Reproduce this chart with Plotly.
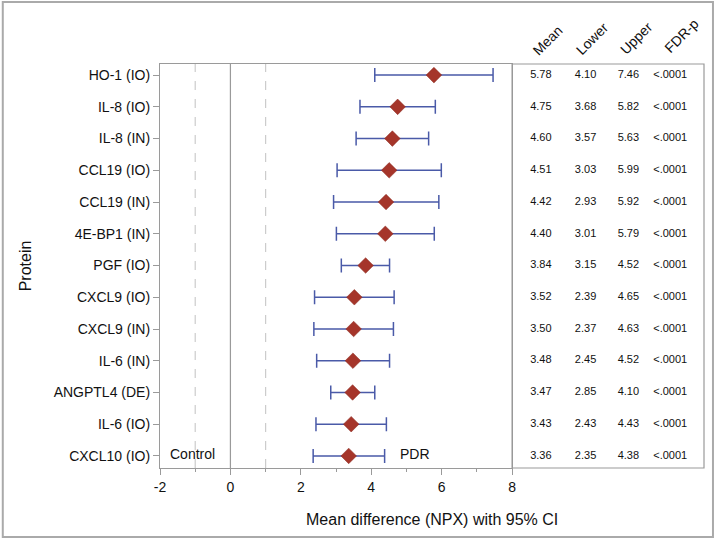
import plotly.graph_objects as go

# Forest plot data
proteins = ["HO-1 (IO)", "IL-8 (IO)", "IL-8 (IN)", "CCL19 (IO)", "CCL19 (IN)",
            "4E-BP1 (IN)", "PGF (IO)", "CXCL9 (IO)", "CXCL9 (IN)", "IL-6 (IN)",
            "ANGPTL4 (DE)", "IL-6 (IO)", "CXCL10 (IO)"]
mean = [5.78, 4.75, 4.60, 4.51, 4.42, 4.40, 3.84, 3.52, 3.50, 3.48, 3.47, 3.43, 3.36]
lower = [4.10, 3.68, 3.57, 3.03, 2.93, 3.01, 3.15, 2.39, 2.37, 2.45, 2.85, 2.43, 2.35]
upper = [7.46, 5.82, 5.63, 5.99, 5.92, 5.79, 4.52, 4.65, 4.63, 4.52, 4.10, 4.43, 4.38]
fdr_p = ["<.0001"] * len(proteins)
col_headers = ["Mean", "Lower", "Upper", "FDR-p"]
col_pos = [0.15, 0.383, 0.606, 0.824]
x_ticks = [-2, 0, 2, 4, 6, 8]
x_ticktext = ["-2", "0", "2", "4", "6", "8"]

FONT = "Liberation Sans, Arial, sans-serif"
AXIS = "#9a9a9a"

fig = go.Figure()

# CI bars and mean markers
fig.add_trace(go.Scatter(
    x=mean, y=proteins, mode="markers",
    marker=dict(symbol="diamond", size=12, color="#a5352a",
                line=dict(color="#8a2a20", width=0.5)),
    error_x=dict(type="data", symmetric=False,
                 array=[u - m for u, m in zip(upper, mean)],
                 arrayminus=[m - l for m, l in zip(mean, lower)],
                 color="#4a5aa8", thickness=1.5, width=7),
    showlegend=False, hoverinfo="skip", xaxis="x", yaxis="y"))

# Table columns
columns = [["%.2f" % v for v in mean], ["%.2f" % v for v in lower],
           ["%.2f" % v for v in upper], fdr_p]
for pos, vals in zip(col_pos, columns):
    fig.add_trace(go.Scatter(
        x=[pos] * len(vals), y=proteins, mode="text", text=vals,
        textfont=dict(family=FONT, size=11, color="#111"),
        showlegend=False, hoverinfo="skip", xaxis="x2", yaxis="y"))

# Reference lines
fig.add_shape(type="line", x0=0, x1=0, y0=0, y1=1, xref="x", yref="y domain",
              line=dict(color=AXIS, width=1.2))
for xv in [-1, 1]:
    fig.add_shape(type="line", x0=xv, x1=xv, y0=0, y1=1, xref="x", yref="y domain",
                  line=dict(color="#cccccc", width=1.2, dash="dash"))

# Table box
fig.add_shape(type="rect", x0=0, x1=1, y0=0, y1=1, xref="x2 domain", yref="y domain",
              line=dict(color=AXIS, width=1.2))
# Outer border
fig.add_shape(type="rect", x0=-0.289, x1=1.0165, y0=-0.1705, y1=1.1535,
              xref="paper", yref="paper", line=dict(color="#aaaaaa", width=2))

# Column headers
hdr_x = [550, 594, 639, 684]
hdr_y = [40, 39, 38, 36]
for h, px, py in zip(col_headers, hdr_x, hdr_y):
    fig.add_annotation(text=h, x=(px - 160) / 547, y=(468 - py) / 404,
                       xref="paper", yref="paper", showarrow=False, textangle=-45,
                       xanchor="center", yanchor="middle",
                       font=dict(family=FONT, size=14, color="#111"))

fig.add_annotation(text="Control", x=-1.77, y="CXCL10 (IO)", xref="x", yref="y",
                   xanchor="left", yshift=2, showarrow=False,
                   font=dict(family=FONT, size=14, color="#111"))
fig.add_annotation(text="PDR", x=4.75, y="CXCL10 (IO)", xref="x", yref="y",
                   xanchor="left", yshift=2, showarrow=False,
                   font=dict(family=FONT, size=14, color="#111"))

fig.add_annotation(text="Mean difference (NPX) with 95% CI", x=0.5, y=-0.128,
                   xref="paper", yref="paper", showarrow=False,
                   xanchor="center", yanchor="middle",
                   font=dict(family=FONT, size=16, color="#111"))

fig.update_layout(
    width=720, height=540,
    margin=dict(l=160, r=13, t=64, b=72),
    paper_bgcolor="white", plot_bgcolor="white",
    font=dict(family=FONT, size=14, color="#111"),
    xaxis=dict(domain=[0, 0.6472], range=[-2, 8], tickvals=x_ticks,
               ticktext=x_ticktext, showgrid=False,
               zeroline=False, showline=True, linecolor=AXIS, linewidth=1.2,
               mirror=True, ticks="outside", ticklen=6, tickcolor=AXIS,
               minor=dict(dtick=1, ticks="outside", ticklen=3, tickcolor=AXIS),
               tickfont=dict(size=14)),
    xaxis2=dict(domain=[0.6472, 1], range=[0, 1], showgrid=False, zeroline=False,
                showticklabels=False, anchor="y"),
    yaxis=dict(type="category", categoryorder="array", categoryarray=proteins,
               range=[12.38, -0.35], showgrid=False, zeroline=False,
               showline=True, linecolor=AXIS, linewidth=1.2, mirror=True,
               ticks="outside", ticklen=6, tickcolor=AXIS,
               title=dict(text="Protein", font=dict(size=16), standoff=18),
               tickfont=dict(size=14)),
)

fig.write_html("out.html", config={"displayModeBar": False},
               post_script="document.body.style.margin = '0';")
